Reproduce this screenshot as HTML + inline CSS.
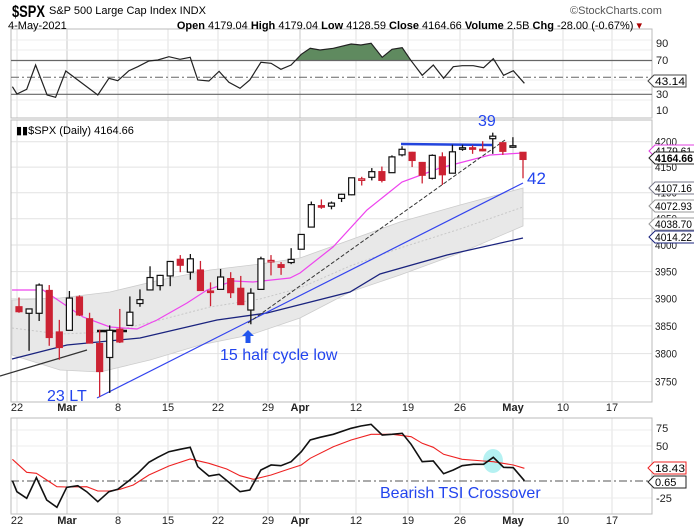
<!DOCTYPE html>
<html><head><meta charset="utf-8"><style>
body{margin:0;background:#fff;width:694px;height:528px;overflow:hidden;font-family:"Liberation Sans",sans-serif}
svg{position:absolute;left:0;top:0}
text{font-family:"Liberation Sans",sans-serif}
</style></head><body>
<svg id="s" width="694" height="528" viewBox="0 0 694 528" xmlns="http://www.w3.org/2000/svg">
<g id="grid"></g>
<!-- RSI panel -->
<rect x="11" y="29" width="641" height="89" fill="none" stroke="#bbb"/>
<path id="rsiFill" fill="#5f8a5f" stroke="none"/>
<line x1="11" y1="60.5" x2="652" y2="60.5" stroke="#666" stroke-width="1.2"/>
<line x1="11" y1="94.3" x2="652" y2="94.3" stroke="#666" stroke-width="1.2"/>
<line x1="11" y1="77.3" x2="652" y2="77.3" stroke="#666" stroke-dasharray="8,3,2,3"/>
<polyline id="rsi" fill="none" stroke="#222" stroke-width="1.2"/>
<g font-size="11" fill="#222">
<text x="656" y="47">90</text><text x="656" y="64">70</text><text x="656" y="98">30</text><text x="656" y="114">10</text>
</g>
<path d="M648 81 l6 -6 h32 v12 h-32z" fill="#fff" stroke="#444"/>
<text x="655" y="85" font-size="11" textLength="30" lengthAdjust="spacingAndGlyphs">43.14</text>
<!-- price panel -->
<rect x="11" y="120" width="641" height="282" fill="none" stroke="#bbb"/>
<polygon id="band" fill="#e8e8e8" stroke="#ccc" stroke-width="0.8"/>
<polyline id="bandc" fill="none" stroke="#c8c8c8" stroke-dasharray="2,2"/>
<polyline id="ma50" fill="none" stroke="#1a237e" stroke-width="1.3"/>
<polyline id="ema" fill="none" stroke="#ee44ee" stroke-width="1.2"/>
<line x1="97" y1="398" x2="523" y2="183" stroke="#3344ee" stroke-width="1.2"/>
<line x1="248" y1="323" x2="505" y2="140" stroke="#333" stroke-dasharray="4,2"/>
<line x1="0" y1="376" x2="87" y2="350" stroke="#333" stroke-width="1.2"/>
<line x1="97" y1="331" x2="127" y2="331" stroke="#111" stroke-width="2.5"/>
<line x1="401" y1="144" x2="492" y2="145" stroke="#2244dd" stroke-width="2.5"/>
<g id="candles"></g>
<path d="M248 330 l-6 6 h3.5 v7 h5 v-7 h3.5z" fill="#2255ee"/>
<text x="16" y="134" font-size="11" font-family="Liberation Mono,monospace">▮▮$SPX (Daily) 4164.66</text>
<g fill="#2244ee">
<text x="220" y="360" font-size="16">15 half cycle low</text>
<text x="47" y="401" font-size="16">23 LT</text>
<text x="478" y="126" font-size="16">39</text>
<text x="527" y="184" font-size="17">42</text>
<text x="380" y="498" font-size="16">Bearish TSI Crossover</text>
</g>
<g font-size="11" fill="#222" id="paxis"></g>
<g font-size="11">
<path d="M649 151 l6 -6 h40 v12 h-40z" fill="#fff" stroke="#e040e0"/><text x="655" y="155" textLength="37" lengthAdjust="spacingAndGlyphs">4179.61</text>
<path d="M649 158 l6 -6 h40 v12 h-40z" fill="#fff" stroke="#222"/><text x="655" y="162" font-weight="bold" textLength="38" lengthAdjust="spacingAndGlyphs">4164.66</text>
<path d="M649 188 l6 -6 h40 v12 h-40z" fill="#fff" stroke="#778"/><text x="655" y="192" textLength="37" lengthAdjust="spacingAndGlyphs">4107.16</text>
<path d="M649 206 l6 -6 h40 v12 h-40z" fill="#fff" stroke="#999"/><text x="655" y="210" textLength="37" lengthAdjust="spacingAndGlyphs">4072.93</text>
<path d="M649 224 l6 -6 h40 v12 h-40z" fill="#fff" stroke="#999"/><text x="655" y="228" textLength="37" lengthAdjust="spacingAndGlyphs">4038.70</text>
<path d="M649 237 l6 -6 h40 v12 h-40z" fill="#fff" stroke="#1a237e"/><text x="655" y="241" textLength="37" lengthAdjust="spacingAndGlyphs">4014.22</text>
</g>
<!-- TSI panel -->
<rect x="11" y="418" width="641" height="96" fill="none" stroke="#bbb"/>
<line x1="11" y1="481" x2="652" y2="481" stroke="#555" stroke-dasharray="8,3,2,3"/>
<ellipse cx="493" cy="461" rx="10" ry="12" fill="#a8eef0" opacity="0.85"/>
<polyline id="sig" fill="none" stroke="#ee2222" stroke-width="1.1"/>
<polyline id="tsi" fill="none" stroke="#111" stroke-width="1.6"/>
<g font-size="11" fill="#222"><text x="656" y="432">75</text><text x="656" y="450">50</text><text x="656" y="502">-25</text></g>
<path d="M648 468 l6 -6 h32 v12 h-32z" fill="#fff" stroke="#e22"/><text x="655" y="472" font-size="11" textLength="30" lengthAdjust="spacingAndGlyphs">18.43</text>
<path d="M648 482 l6 -6 h32 v12 h-32z" fill="#fff" stroke="#222"/><text x="655" y="486" font-size="11">0.65</text>
<g id="dates" font-size="11" fill="#222"></g>
<!-- header -->
<text x="12" y="17" font-size="17" font-weight="bold" textLength="33" lengthAdjust="spacingAndGlyphs">$SPX</text>
<text x="49" y="14" font-size="11">S&amp;P 500 Large Cap Index  INDX</text>
<text x="8" y="29" font-size="11">4-May-2021</text>
<text x="642" y="29" font-size="11" text-anchor="end"><tspan font-weight="bold">Open</tspan> 4179.04 <tspan font-weight="bold">High</tspan> 4179.04 <tspan font-weight="bold">Low</tspan> 4128.59 <tspan font-weight="bold">Close</tspan> 4164.66 <tspan font-weight="bold">Volume</tspan> 2.5B <tspan font-weight="bold">Chg</tspan> -28.00 (-0.67%) <tspan fill="#a00">▾</tspan></text>
<text x="570" y="14" font-size="11" fill="#555">©StockCharts.com</text>
</svg>
<script>
var NS="http://www.w3.org/2000/svg";
function el(t,a,p){var e=document.createElementNS(NS,t);for(var k in a)e.setAttribute(k,a[k]);(p||document.getElementById('s')).appendChild(e);return e;}
function Y(p){return 245-2117*Math.log(p/4000);}
function X(i){return 19+10.08*i;}
var g=document.getElementById('grid');
var wk=[[17,'22',0],[67,'Mar',1],[118,'8',0],[168,'15',0],[218,'22',0],[268,'29',0],[300,'Apr',1],[356,'12',0],[408,'19',0],[460,'26',0],[513,'May',1],[563,'10',0],[612,'17',0]];
wk.forEach(function(w){
 if(w[0]>11){[[29,118],[120,402],[418,514]].forEach(function(r){el('line',{x1:w[0],y1:r[0],x2:w[0],y2:r[1],stroke:w[2]?'#c8c8c8':'#e2e2e2'},g);});}
 [411,524].forEach(function(y){var t=el('text',{x:w[0],y:y,'text-anchor':'middle','font-weight':w[2]?'bold':'normal'},document.getElementById('dates'));t.textContent=w[1];});
});
for(var p=3750;p<=4200;p+=50){var y=Y(p);el('line',{x1:11,y1:y,x2:652,y2:y,stroke:'#e2e2e2'},g);
 var t=el('text',{x:655,y:y+4,textLength:22,lengthAdjust:'spacingAndGlyphs'},document.getElementById('paxis'));t.textContent=p;}
[40,50,70,80,90,100,430,446,463,498].forEach(function(y){el('line',{x1:11,y1:y,x2:652,y2:y,stroke:'#ececec'},g);});
var d=[[3885,3902,3874,3876],[3873,3881,3805,3881],[3873,3928,3859,3925],[3915,3925,3814,3829],[3839,3861,3789,3811],[3842,3914,3842,3901],[3903,3906,3868,3870],[3863,3874,3818,3819],[3818,3843,3723,3768],[3793,3851,3730,3842],[3844,3881,3819,3821],[3851,3904,3851,3875],[3891,3917,3885,3898],[3916,3960,3916,3939],[3924,3944,3915,3943],[3942,3970,3923,3969],[3973,3981,3949,3962],[3949,3983,3935,3974],[3953,3970,3914,3915],[3914,3930,3886,3913],[3917,3955,3917,3940],[3937,3949,3901,3911],[3919,3942,3889,3889],[3879,3919,3853,3910],[3917,3978,3917,3974],[3969,3981,3943,3971],[3963,3968,3944,3958],[3967,3994,3964,3973],[3992,4020,3992,4020],[4034,4083,4034,4077],[4075,4087,4069,4074],[4074,4083,4068,4080],[4089,4098,4082,4097],[4096,4129,4095,4129],[4124,4131,4114,4127],[4130,4148,4124,4141],[4141,4151,4120,4124],[4139,4173,4139,4170],[4174,4191,4171,4185],[4179,4180,4150,4163],[4159,4160,4118,4134],[4128,4175,4126,4173],[4170,4179,4115,4135],[4138,4194,4138,4180],[4185,4194,4182,4188],[4188,4193,4176,4187],[4185,4201,4181,4183],[4206,4218,4176,4211],[4198,4198,4174,4181],[4191,4209,4188,4192],[4179,4179,4128,4165]];
var cg=document.getElementById('candles');
d.forEach(function(c,i){var x=X(i),prev=i?d[i-1][3]:3880;var col=c[3]>=prev?'#111':'#cc2233';var up=c[3]>=c[0];
 el('line',{x1:x,y1:Y(c[1]),x2:x,y2:Y(c[2]),stroke:col,'stroke-width':1.3},cg);
 var t=Y(Math.max(c[0],c[3])),b=Y(Math.min(c[0],c[3]));if(b-t<1.5){b=t+1.5;}
 el('rect',{x:x-3,y:t,width:6,height:b-t,fill:up?'#fff':col,stroke:col,'stroke-width':1.2},cg);});
function pl(id,pts,sx,sy,ox,oy){document.getElementById(id).setAttribute('points',pts.map(function(p){return (ox+p[0]/sx).toFixed(1)+','+(oy+p[1]/sy).toFixed(1);}).join(' '));}
var rsi=[[28,260],[38,282],[60,268],[80,195],[106,285],[125,292],[148,213],[175,240],[220,285],[245,235],[265,242],[290,212],[310,200],[335,183],[355,180],[380,170],[405,178],[428,172],[445,240],[470,243],[493,214],[515,247],[540,265],[562,240],[587,187],[610,190],[632,208],[655,195],[678,163],[698,145],[720,150],[750,145],[790,132],[812,135],[835,130],[860,172],[882,148],[905,143],[925,182],[950,226],[975,195],[998,235],[1020,200],[1040,197],[1065,197],[1088,203],[1110,176],[1133,226],[1155,212],[1180,250]];
pl('rsi',rsi,2.25,3,0,0);
var f=[[665,181],[678,163],[698,145],[720,150],[750,145],[790,132],[812,135],[835,130],[860,172],[882,148],[905,143],[925,181]];
document.getElementById('rsiFill').setAttribute('d','M'+f.map(function(p){return (p[0]/2.25).toFixed(1)+','+(p[1]/3).toFixed(1);}).join(' L')+'Z');
var tsi=[[28,257],[38,290],[60,310],[82,248],[105,315],[128,337],[150,277],[175,272],[195,290],[220,320],[245,290],[265,283],[290,257],[310,235],[335,202],[355,187],[380,170],[405,163],[428,157],[445,215],[470,243],[493,238],[515,262],[540,290],[562,285],[587,225],[610,210],[632,212],[655,200],[678,170],[698,135],[720,127],[750,118],[790,100],[812,93],[835,88],[860,120],[882,118],[905,115],[925,148],[950,200],[975,198],[998,236],[1020,225],[1040,212],[1065,208],[1088,208],[1110,187],[1133,217],[1155,218],[1180,257]];
var sig=[[28,193],[60,232],[82,235],[105,255],[128,275],[150,276],[195,275],[220,288],[245,288],[270,283],[300,270],[335,240],[380,213],[428,192],[470,205],[510,222],[540,242],[570,253],[610,240],[650,222],[678,210],[698,190],[750,155],[790,135],[835,118],[882,118],[925,125],[950,145],[975,157],[998,178],[1040,193],[1088,198],[1110,200],[1155,210],[1180,220]];
pl('tsi',tsi,2.25,3,0,395);pl('sig',sig,2.25,3,0,395);
function raw(id,pts){document.getElementById(id).setAttribute('points',pts.map(function(p){return p.join(',');}).join(' '));}
raw('ema',[[12,290],[43,290],[83,317],[110,327],[137,329],[157,320],[187,303],[207,290],[233,281],[253,282],[290,278],[300,273],[333,247],[367,210],[402,182],[440,168],[490,155],[523,153]]);
raw('ma50',[[12,359],[67,345],[140,338],[217,320],[267,313],[350,292],[380,274],[447,255],[523,238]]);
raw('band',[[12,300],[60,298],[110,292],[160,280],[210,270],[260,264],[300,258],[350,240],[400,222],[460,205],[523,188],[523,226],[460,253],[400,275],[350,292],[300,318],[250,335],[200,345],[150,360],[100,372],[60,370],[12,355]]);
raw('bandc',[[12,328],[60,334],[110,332],[160,320],[210,307],[260,299],[300,288],[350,266],[400,248],[460,229],[523,207]]);
</script>
</body></html>
